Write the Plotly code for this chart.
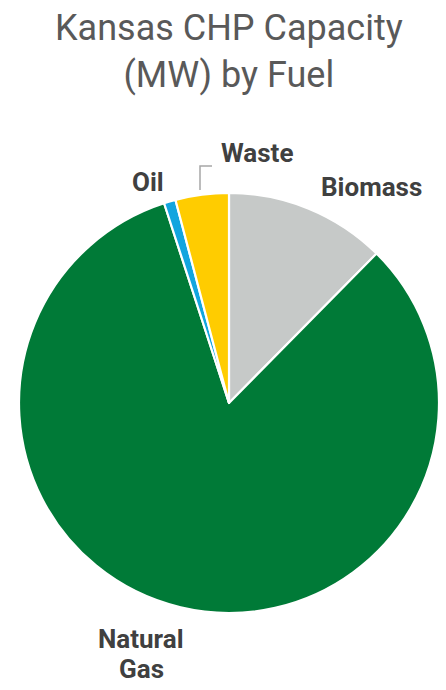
import plotly.graph_objects as go

fuels = ["Biomass", "Natural Gas", "Oil", "Waste"]
capacity = [12.4, 82.6, 0.9, 4.1]
colors = ["#C6C9C8", "#007A37", "#12A5DF", "#FFCC00"]
label_lines = [["Biomass"], ["Natural", "Gas"], ["Oil"], ["Waste"]]

W, H = 446, 690
OFF = 8  # page body margin
cx, cy, r = 229, 403, 210

def px(x):
    return (x - OFF) / W

def py(y):
    return 1 - (y - OFF) / H

fig = go.Figure(go.Pie(
    labels=fuels,
    values=capacity,
    sort=False,
    direction="clockwise",
    rotation=0,
    textinfo="none",
    hoverinfo="label+value",
    marker=dict(colors=colors, line=dict(color="white", width=2.2)),
    domain=dict(x=[px(cx - r), px(cx + r)], y=[py(cy + r), py(cy - r)]),
    showlegend=False,
))

label_pos = [(371, 187), (141, 639), (148, 182), (257, 153)]
annotations = []
for lines, (x, y) in zip(label_lines, label_pos):
    for i, txt in enumerate(lines):
        annotations.append(dict(
            x=px(x), y=py(y + 30 * i), xref="paper", yref="paper", text=f"<b>{txt}</b>",
            showarrow=False, xanchor="center", yanchor="middle",
            font=dict(family="Roboto, sans-serif", size=26, color="#404040"),
        ))
annotations.append(dict(
    x=px(229), y=py(51), xref="paper", yref="paper",
    text="Kansas CHP Capacity<br>(MW) by Fuel", showarrow=False,
    xanchor="center", yanchor="middle",
    font=dict(family="Roboto, sans-serif", size=36, color="#595959"),
))

fig.update_layout(
    width=W, height=H,
    margin=dict(l=0, r=0, t=0, b=0),
    paper_bgcolor="white",
    annotations=annotations,
    shapes=[dict(type="path", xref="paper", yref="paper",
                 path=f"M {px(200)},{py(190)} L {px(200)},{py(166)} L {px(212)},{py(166)}",
                 line=dict(color="#A6A6A6", width=1.5))],
)

fig.write_html("out.html")
